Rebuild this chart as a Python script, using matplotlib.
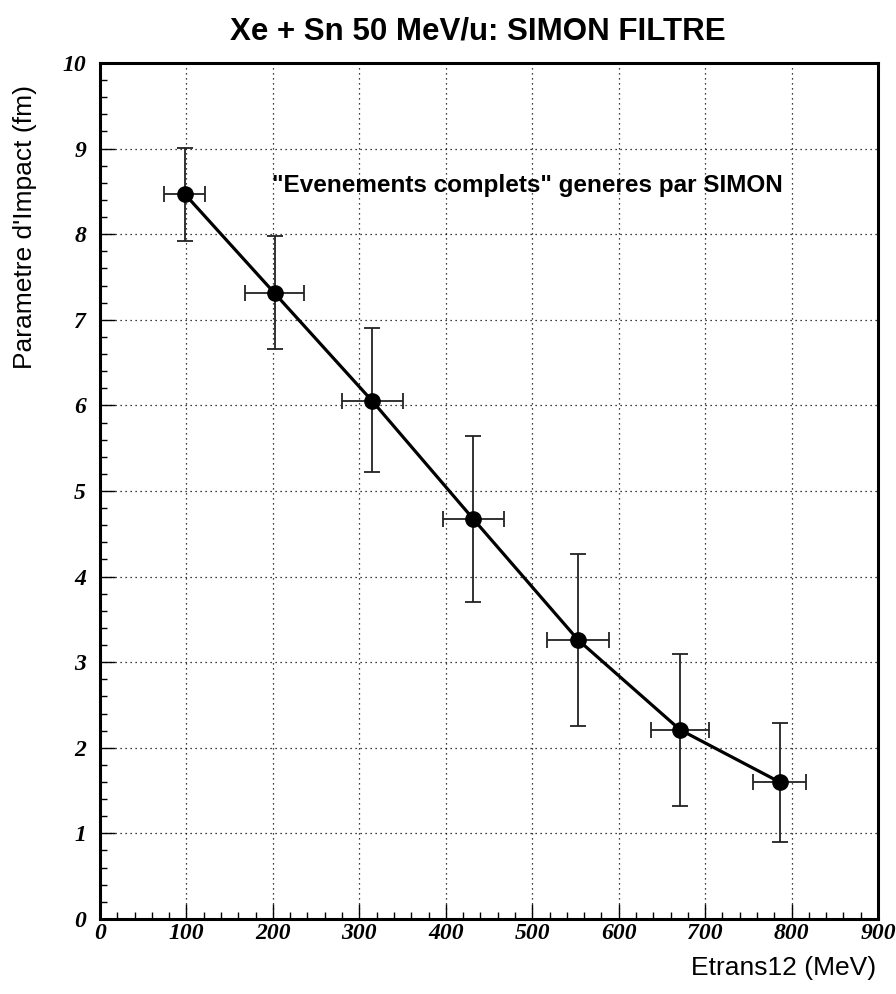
import numpy as np
import matplotlib
matplotlib.use('Agg')
import matplotlib.pyplot as plt
from matplotlib.ticker import MultipleLocator

# donnees
etrans = [98, 202, 315, 432, 553, 671, 786]
etrans_err = [23.5, 34.5, 35, 35.5, 36, 34, 31]
bimp = [8.47, 7.31, 6.05, 4.67, 3.26, 2.21, 1.60]
bimp_hi = [9.01, 7.98, 6.90, 5.64, 4.26, 3.10, 2.29]
bimp_lo = [7.92, 6.66, 5.22, 3.70, 2.25, 1.32, 0.90]

yerr = [np.array(bimp) - np.array(bimp_lo), np.array(bimp_hi) - np.array(bimp)]

fig = plt.figure(figsize=(8.96, 9.94), dpi=100)
ax = fig.add_axes([0.1116, 0.0755, 0.8684, 0.8611])

ax.errorbar(etrans, bimp, xerr=etrans_err, yerr=yerr, fmt='none',
            ecolor='#222222', elinewidth=1.3, capsize=6, capthick=1.3, zorder=3)
ax.plot(etrans, bimp, color='black', lw=2.3, marker='o', ms=11, zorder=4)

ax.set_xlim(0, 900)
ax.set_ylim(0, 10)
ax.xaxis.set_major_locator(MultipleLocator(100))
ax.xaxis.set_minor_locator(MultipleLocator(20))
ax.yaxis.set_major_locator(MultipleLocator(1))
ax.yaxis.set_minor_locator(MultipleLocator(0.2))
ax.grid(True, which='major', color='black', linestyle=(0, (1, 3)), linewidth=0.9)

ax.tick_params(which='both', direction='in', top=False, right=False, width=1)
ax.tick_params(which='major', length=11)
ax.tick_params(which='minor', length=5)
ax.tick_params(axis='x', which='major', pad=3)
ax.tick_params(axis='y', which='major', pad=10)
for sp in ax.spines.values():
    sp.set_linewidth(2.2)

for lab in ax.get_xticklabels() + ax.get_yticklabels():
    lab.set_fontfamily('Liberation Serif')
    lab.set_fontweight('bold')
    lab.set_fontstyle('italic')
    lab.set_fontsize(17)

# titres des axes (places comme sur l'original)
fig.text(0.9777, 0.026, 'Etrans12 (MeV)', family='Liberation Sans', fontsize=19,
         ha='right', va='center')
fig.text(0.028, 0.9145, "Parametre d'Impact (fm)", family='Liberation Sans', fontsize=19,
         rotation=90, ha='center', va='top')

ax.text(199, 8.57, '"Evenements complets" generes par SIMON', family='Liberation Sans',
        fontweight='bold', fontsize=17.5, va='center', ha='left')

fig.text(0.533, 0.968, 'Xe + Sn 50 MeV/u: SIMON FILTRE', family='Liberation Sans',
         fontweight='bold', fontsize=22.5, ha='center', va='center')

fig.savefig('out.png', dpi=100)
